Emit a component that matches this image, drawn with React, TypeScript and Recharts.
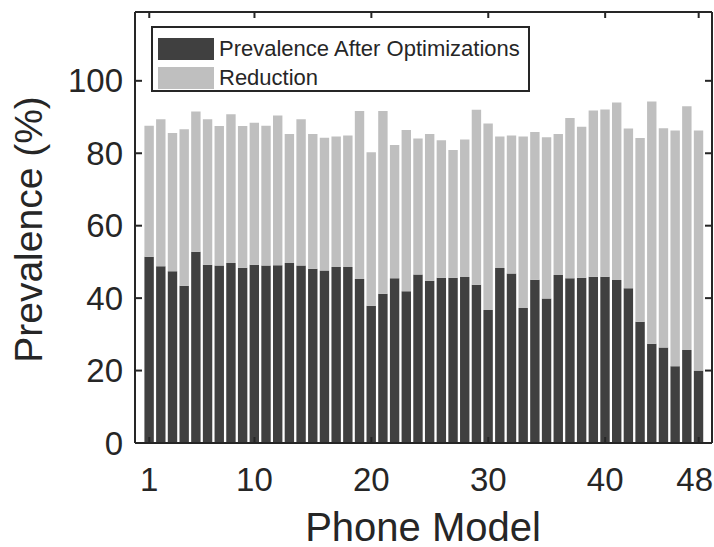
import React from 'react';
import { BarChart, Bar, XAxis, YAxis, Legend } from 'recharts';

// phone model index 1..48
const phoneModels = Array.from({ length: 48 }, (_, i) => i + 1);

// prevalence (%) left after the optimizations
const afterOptimizations = [
  51.4, 48.8, 47.4, 43.4, 52.8, 49.2, 49.0, 49.7, 48.4, 49.2,
  49.0, 49.1, 49.7, 49.0, 48.1, 47.6, 48.6, 48.6, 45.3, 37.9,
  41.2, 45.5, 41.9, 46.5, 44.8, 45.6, 45.6, 45.8, 43.7, 36.7,
  48.3, 46.8, 37.3, 45.1, 39.9, 46.4, 45.5, 45.6, 45.9, 45.9,
  45.0, 42.7, 33.5, 27.4, 26.4, 21.2, 25.7, 20.0,
];

// reduction (%) achieved on top of that
const reduction = [
  36.2, 40.6, 38.2, 43.2, 38.7, 40.2, 38.5, 41.1, 39.1, 39.2,
  38.6, 41.3, 35.6, 40.4, 37.2, 36.7, 36.0, 36.3, 46.4, 42.4,
  50.5, 36.8, 44.5, 37.6, 40.5, 38.0, 35.3, 38.0, 48.3, 51.5,
  36.3, 38.1, 47.3, 40.8, 44.5, 38.9, 44.2, 41.7, 45.9, 46.2,
  49.0, 44.1, 50.7, 66.9, 60.5, 65.1, 67.3, 66.3,
];

const xTicks = [1, 10, 20, 30, 40, 48];
const yTicks = [0, 20, 40, 60, 80, 100];

const data = phoneModels.map((model, i) => ({
  model,
  after: afterOptimizations[i],
  reduction: reduction[i],
}));

const INK = '#262626';
const FONT = '"Liberation Sans", Arial, Helvetica, sans-serif';

const XTick = ({ x, y, payload }: any) => {
  const last = payload.value === 48;
  return (
    <text
      x={last ? 713 : x}
      y={y}
      dy={54}
      textAnchor={last ? 'end' : 'middle'}
      fontSize={33}
      fontFamily={FONT}
      fill={INK}
    >
      {payload.value}
    </text>
  );
};

const YTick = ({ x, y, payload }: any) => (
  <text
    x={x}
    y={y}
    dx={-19}
    dy={11.5}
    textAnchor="end"
    fontSize={33}
    fontFamily={FONT}
    fill={INK}
  >
    {payload.value}
  </text>
);

const NoLabel = () => null;

const LegendBox = ({ payload }: any) => (
  <div
    style={{
      width: 379,
      height: 66,
      border: `2px solid ${INK}`,
      background: '#fff',
      padding: '6px 0 0 5px',
      boxSizing: 'border-box',
      fontFamily: FONT,
      fontSize: 22,
      color: INK,
    }}
  >
    {(payload || []).map((p: any) => (
      <div key={p.value} style={{ display: 'flex', alignItems: 'center', height: 29 }}>
        <span style={{ width: 56, height: 22, background: p.color, marginRight: 5 }} />
        <span style={{ lineHeight: '22px' }}>{p.value}</span>
      </div>
    ))}
  </div>
);

const axisStyle = { stroke: INK, strokeWidth: 2 };

export default function App() {
  return (
    <div style={{ position: 'absolute', left: 0, top: 0, background: '#fff' }}>
      <BarChart
        width={714}
        height={547}
        data={data}
        margin={{ top: 11, right: 1, bottom: 103, left: 134 }}
        barSize={9.4}
      >
        <XAxis
          xAxisId="bottom"
          dataKey="model"
          type="number"
          domain={[-0.22, 49.14]}
          ticks={xTicks}
          height={1}
          tickSize={-6}
          tickMargin={0}
          tick={<XTick />}
          axisLine={axisStyle}
          tickLine={axisStyle}
          allowDataOverflow
        />
        <XAxis
          xAxisId="top"
          orientation="top"
          dataKey="model"
          type="number"
          domain={[-0.22, 49.14]}
          ticks={xTicks}
          height={1}
          tickSize={-6}
          tick={<NoLabel />}
          axisLine={axisStyle}
          tickLine={axisStyle}
          allowDataOverflow
        />
        <YAxis
          yAxisId="left"
          type="number"
          domain={[0, 119]}
          ticks={yTicks}
          width={1}
          tickSize={-7}
          tickMargin={0}
          tick={<YTick />}
          axisLine={axisStyle}
          tickLine={axisStyle}
          allowDataOverflow
        />
        <YAxis
          yAxisId="right"
          orientation="right"
          type="number"
          domain={[0, 119]}
          ticks={yTicks}
          width={1}
          tickSize={-7}
          tick={<NoLabel />}
          axisLine={axisStyle}
          tickLine={axisStyle}
          allowDataOverflow
        />
        <Legend
          layout="vertical"
          align="center"
          verticalAlign="middle"
          content={<LegendBox />}
          wrapperStyle={{ left: 151, top: 26, width: 379 }}
        />
        <Bar
          xAxisId="bottom"
          yAxisId="left"
          dataKey="after"
          stackId="prev"
          name="Prevalence After Optimizations"
          fill="#404040"
          isAnimationActive={false}
        />
        <Bar
          xAxisId="bottom"
          yAxisId="left"
          dataKey="reduction"
          stackId="prev"
          name="Reduction"
          fill="#bfbfbf"
          isAnimationActive={false}
        />
        <text
          x={41.7}
          y={229.5}
          transform="rotate(-90 41.7 229.5)"
          textAnchor="middle"
          fontSize={39}
          fontFamily={FONT}
          fill={INK}
        >
          Prevalence (%)
        </text>
        <text x={423} y={541} textAnchor="middle" fontSize={40} fontFamily={FONT} fill={INK}>
          Phone Model
        </text>
      </BarChart>
    </div>
  );
}
